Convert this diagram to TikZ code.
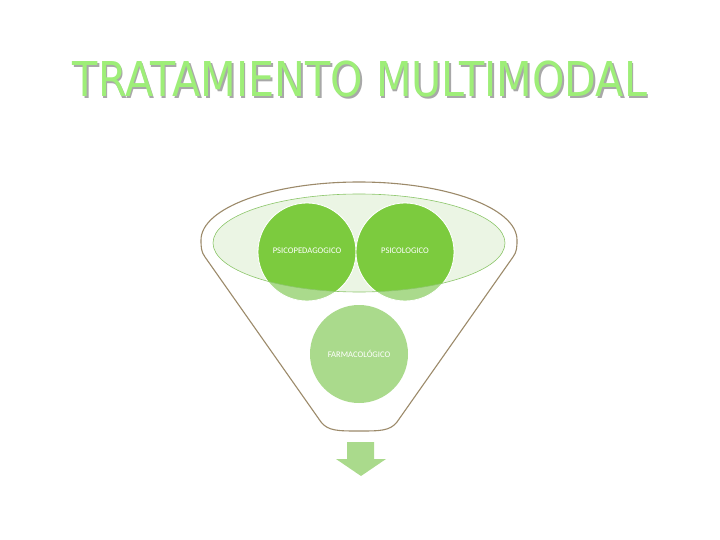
\documentclass[tikz,border=0pt]{standalone}
\usepackage{fontspec}
\setmainfont{DejaVu Sans}
\newfontfamily\labelfont{Carlito}
\definecolor{titlegreen}{HTML}{9EEE78}
\definecolor{shadowgray}{HTML}{A8A8A8}
\definecolor{darkgreen}{HTML}{7CCB3E}
\definecolor{lightgreen}{HTML}{AADA8C}
\definecolor{palegreen}{HTML}{EBF5E4}
\definecolor{ellstroke}{HTML}{8CC66A}
\definecolor{funnelline}{HTML}{9C8A6A}
\newcommand{\shadowtitle}[1]{\rlap{\hspace{2pt}\raisebox{-2pt}{\color{shadowgray}#1}}\color{titlegreen}#1}
\tikzset{
  titletext/.style={font=\fontsize{48}{48}\selectfont, inner sep=0pt, anchor=base},
  circlabel/.style={font=\labelfont\fontsize{8.6}{9}\selectfont, text=white, inner sep=0pt},
  funnelstyle/.style={draw=funnelline, line width=1.1pt, fill=white, line join=round},
}
\begin{document}
\begin{tikzpicture}[x=1pt,y=-1pt]
\useasboundingbox (0,0) rectangle (720,540);
\fill[white] (0,0) rectangle (720,540);
% title
\node[titletext] (title) at (360,97) {\scalebox{0.86}[1]{\shadowtitle{TRATAMIENTO MULTIMODAL}}};
% funnel outline
\draw[funnelstyle] (205,257) .. controls (201,252) and (201,246) .. (201,240)
  arc[start angle=180, end angle=360, x radius=158, y radius=58]
  .. controls (517,246) and (517,252) .. (513,257)
  -- (397,422) .. controls (390,431) and (380,431) .. (359,431)
  .. controls (338,431) and (328,431) .. (321,422) -- cycle;
% inner ellipse
\fill[palegreen] (359,243) ellipse[x radius=146, y radius=49];
% circles (outer, light parts)
\fill[lightgreen] (359,354) circle (49);
\node[circlabel] (farma) at (359,354) {FARMACOLÓGICO};
\filldraw[fill=lightgreen, draw=white, line width=0.8pt] (307,252) circle (49);
\filldraw[fill=lightgreen, draw=white, line width=0.8pt] (405,252) circle (49);
% dark parts inside ellipse
\begin{scope}
  \clip (359,243) ellipse[x radius=146, y radius=49];
  \filldraw[fill=darkgreen, draw=white, line width=0.8pt] (307,252) circle (49);
  \filldraw[fill=darkgreen, draw=white, line width=0.8pt] (405,252) circle (49);
\end{scope}
\draw[ellstroke, line width=0.6pt] (359,243) ellipse[x radius=146, y radius=49];
\node[circlabel] (psicoped) at (307,251) {PSICOPEDAGOGICO};
\node[circlabel] (psicol) at (405,251) {PSICOLOGICO};
% arrow
\fill[lightgreen] (347,442) -- (374,442) -- (374,459) -- (386,459) -- (361,476) -- (336,459) -- (347,459) -- cycle;
\end{tikzpicture}
\end{document}
